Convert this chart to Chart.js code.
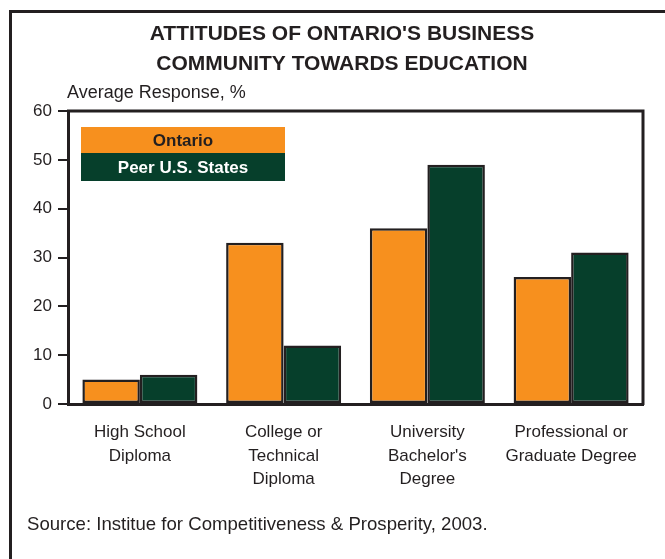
<!DOCTYPE html>
<html>
<head>
<meta charset="utf-8">
<title>Attitudes of Ontario's Business Community Towards Education</title>
<script src="https://cdn.jsdelivr.net/npm/chart.js@4"></script>
<style>
  html, body { margin: 0; padding: 0; background: #fff; }
  #wrap { position: relative; width: 665px; height: 559px; }
</style>
</head>
<body>
<div id="wrap"><canvas id="mycanvas"></canvas></div>
<script>
var categories = [
  ['High School', 'Diploma'],
  ['College or', 'Technical', 'Diploma'],
  ['University', "Bachelor's", 'Degree'],
  ['Professional or', 'Graduate Degree']
];
var ontario = [5, 33, 36, 26];
var peerStates = [6, 12, 49, 31];
var seriesNames = ['Ontario', 'Peer U.S. States'];
var yTicks = [0, 10, 20, 30, 40, 50, 60];

var titleLines = ["ATTITUDES OF ONTARIO'S BUSINESS", 'COMMUNITY TOWARDS EDUCATION'];
var yTitle = 'Average Response, %';
var sourceText = 'Source: Institue for Competitiveness & Prosperity, 2003.';

var ink = '#231f20';
var orange = '#f7901e';
var green = '#063f2b';
var font = '"Liberation Sans", Arial, sans-serif';

// frame, headings, legend block and source line
var decorations = {
  id: 'decorations',
  afterDraw: function(chart) {
    var ctx = chart.ctx;
    var area = chart.chartArea;
    ctx.save();

    // outer frame (runs off the right and bottom edges)
    ctx.strokeStyle = ink;
    ctx.lineWidth = 3;
    ctx.beginPath();
    ctx.moveTo(10.5, chart.height);
    ctx.lineTo(10.5, 11.5);
    ctx.lineTo(chart.width, 11.5);
    ctx.stroke();

    // top and right sides of the plot box
    ctx.lineWidth = 3;
    ctx.beginPath();
    ctx.moveTo(area.left - 1, area.top);
    ctx.lineTo(area.right, area.top);
    ctx.lineTo(area.right, area.bottom + 1);
    ctx.stroke();

    ctx.fillStyle = ink;
    ctx.textBaseline = 'middle';
    ctx.textAlign = 'center';
    ctx.font = 'bold 21px ' + font;
    ctx.fillText(titleLines[0], 342, 34);
    ctx.fillText(titleLines[1], 342, 64);

    ctx.textAlign = 'left';
    ctx.font = '18px ' + font;
    ctx.fillText(yTitle, 67, 93);

    ctx.font = '18.6px ' + font;
    ctx.fillText(sourceText, 27, 525);

    // legend boxes with the series names written inside
    var lx = area.left + 13, lw = 204;
    var boxes = [
      { y: 127, h: 26, fill: orange, text: ink },
      { y: 153, h: 28, fill: green, text: '#ffffff' }
    ];
    ctx.textAlign = 'center';
    ctx.font = 'bold 17px ' + font;
    boxes.forEach(function(b, i) {
      ctx.fillStyle = b.fill;
      ctx.fillRect(lx, b.y, lw, b.h);
      ctx.fillStyle = b.text;
      ctx.fillText(seriesNames[i], lx + lw / 2, b.y + b.h / 2 + 1);
    });

    ctx.restore();
  }
};

var chartdata = {
  labels: categories,
  datasets: [
    {
      label: seriesNames[0],
      data: ontario,
      backgroundColor: orange,
      borderColor: ink,
      borderWidth: 2.5,
      borderSkipped: false
    },
    {
      label: seriesNames[1],
      data: peerStates,
      backgroundColor: green,
      borderColor: ink,
      borderWidth: 2.5,
      borderSkipped: false
    }
  ]
};

var ctx = document.getElementById('mycanvas');
new Chart(ctx, {
  type: 'bar',
  data: chartdata,
  plugins: [decorations],
  options: {
    responsive: true,
    maintainAspectRatio: false,
    devicePixelRatio: 1,
    animation: { duration: 0 },
    layout: { padding: { top: 111, bottom: 55, left: 0, right: 22 } },
    categoryPercentage: 0.8,
    barPercentage: 1.0,
    plugins: {
      legend: { display: false },
      title: { display: false },
      tooltip: { enabled: false }
    },
    scales: {
      x: {
        afterFit: function(scale) { scale.height = 100; },
        grid: { display: false, drawTicks: false },
        border: { display: true, color: ink, width: 3 },
        ticks: {
          color: ink,
          padding: 17,
          maxRotation: 0,
          autoSkip: false,
          font: { family: font, size: 17, lineHeight: 1.38 }
        }
      },
      y: {
        min: 0,
        max: 60,
        afterFit: function(scale) { scale.width = 68; },
        afterBuildTicks: function(scale) {
          scale.ticks = yTicks.map(function(v) { return { value: v }; });
        },
        grid: {
          drawOnChartArea: false,
          drawTicks: true,
          tickLength: 10,
          color: ink,
          lineWidth: 2
        },
        border: { display: true, color: ink, width: 3 },
        ticks: {
          color: ink,
          padding: 6,
          font: { family: font, size: 17 }
        }
      }
    }
  }
});
</script>
</body>
</html>
